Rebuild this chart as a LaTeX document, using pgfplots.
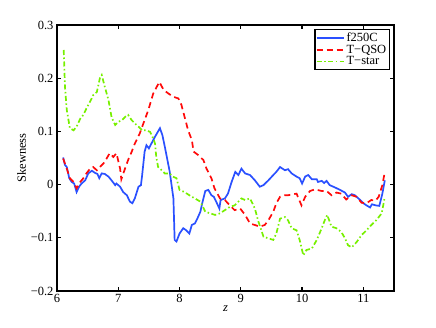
\documentclass[border=0pt]{standalone}
\usepackage{fontspec}
\setmainfont{Liberation Serif}
\usepackage{pgfplots}
\pgfplotsset{compat=1.18}
\definecolor{LBlue}{HTML}{2A50FF}
\definecolor{LRed}{HTML}{FF0A0A}
\definecolor{LGreen}{HTML}{77F000}

\begin{document}
\begin{tikzpicture}
\begin{axis}[
  width=337pt, height=266pt, scale only axis,
  xmin=6, xmax=11.5, ymin=-0.2, ymax=0.3,
  xtick={6,7,8,9,10,11},
  ytick={-0.2,-0.1,0,0.1,0.2,0.3},
  yticklabels={−0.2,−0.1,0,0.1,0.2,0.3},
  tick align=inside,
  major tick length=4pt,
  tick style={black, line width=1.2pt},
  axis line style={line width=1.6pt},
  ticklabel style={font=\fontsize{12.5}{14}\selectfont},
  /pgf/number format/assume math mode=true,
  xlabel={\textit{z}},
  ylabel={Skewness},
  label style={font=\fontsize{12.5}{14}\selectfont},
  xlabel style={yshift=4pt},
  ylabel style={yshift=-2pt},
  legend style={at={(0.988,0.985)}, anchor=north east, draw=black, line width=1.4pt,
    font=\fontsize{12.5}{14}\selectfont, inner sep=1pt, row sep=-2pt},
  legend cell align=left,
  legend image code/.code={\draw[#1, line width=1.7pt] (0cm,0cm) -- (0.95cm,0cm);},
]
\addplot[LBlue, line width=1.7pt] coordinates {
(6.10,0.051)(6.13,0.037)(6.16,0.033)(6.20,0.012)(6.24,0.005)(6.28,0.002)(6.32,-0.014)(6.36,-0.004)
(6.40,0.002)(6.46,0.008)(6.51,0.021)(6.57,0.026)(6.62,0.022)(6.66,0.020)(6.69,0.012)(6.73,0.021)
(6.78,0.020)(6.84,0.015)(6.89,0.008)(6.95,-0.001)(6.97,0.002)(7.03,-0.004)(7.08,-0.014)(7.14,-0.020)
(7.19,-0.032)(7.23,-0.035)(7.27,-0.026)(7.33,-0.004)(7.37,-0.001)(7.39,0.018)(7.43,0.062)(7.46,0.074)
(7.50,0.068)(7.54,0.077)(7.60,0.090)(7.68,0.106)(7.72,0.093)(7.76,0.071)(7.84,0.024)(7.90,-0.026)
(7.92,-0.104)(7.95,-0.107)(8.00,-0.092)(8.06,-0.082)(8.11,-0.086)(8.16,-0.092)(8.20,-0.076)(8.25,-0.073)
(8.29,-0.064)(8.34,-0.051)(8.37,-0.035)(8.42,-0.012)(8.47,-0.010)(8.52,-0.020)(8.56,-0.023)(8.61,-0.035)
(8.65,-0.045)(8.67,-0.029)(8.74,-0.026)(8.79,-0.017)(8.85,0.005)(8.91,0.024)(8.96,0.018)(9.01,0.030)
(9.07,0.021)(9.15,0.018)(9.23,0.008)(9.31,-0.004)(9.37,-0.001)(9.45,0.008)(9.53,0.018)(9.58,0.024)
(9.64,0.033)(9.72,0.027)(9.77,0.029)(9.83,0.021)(9.91,0.015)(9.96,0.012)(10.00,0.002)(10.05,0.015)
(10.10,0.018)(10.16,0.010)(10.24,0.010)(10.26,0.005)(10.32,0.007)(10.36,0.003)(10.40,0.007)(10.45,-0.001)
(10.53,-0.005)(10.62,-0.010)(10.70,-0.015)(10.75,-0.023)(10.81,-0.018)(10.86,-0.020)(10.92,-0.026)
(11.00,-0.035)(11.05,-0.039)(11.11,-0.043)(11.14,-0.037)(11.20,-0.039)(11.26,-0.040)(11.31,-0.017)(11.35,0.008)
};
\addlegendentry{f250C}
\addplot[LRed, line width=1.7pt, dash pattern=on 6pt off 4pt] coordinates {
(6.10,0.049)(6.16,0.030)(6.21,0.012)(6.27,0.005)(6.32,-0.007)(6.38,0.005)(6.43,0.012)(6.48,0.021)
(6.54,0.030)(6.59,0.033)(6.65,0.027)(6.70,0.033)(6.76,0.040)(6.81,0.049)(6.86,0.059)(6.92,0.052)
(6.97,0.059)(7.03,0.030)(7.05,0.010)(7.11,0.030)(7.16,0.046)(7.22,0.062)(7.27,0.077)(7.35,0.096)
(7.41,0.115)(7.49,0.140)(7.57,0.171)(7.67,0.193)(7.74,0.178)(7.82,0.171)(7.90,0.165)(7.98,0.162)
(8.03,0.150)(8.06,0.137)(8.14,0.102)(8.20,0.084)(8.23,0.062)(8.31,0.055)(8.39,0.046)(8.44,0.030)
(8.52,0.012)(8.57,-0.007)(8.66,-0.026)(8.74,-0.029)(8.82,-0.039)(8.90,-0.048)(8.99,-0.045)(9.07,-0.057)
(9.15,-0.073)(9.23,-0.076)(9.31,-0.079)(9.39,-0.076)(9.45,-0.067)(9.53,-0.051)(9.58,-0.035)(9.64,-0.023)
(9.72,-0.020)(9.77,-0.020)(9.91,-0.017)(9.99,-0.039)(10.05,-0.023)(10.13,-0.012)(10.21,-0.009)(10.32,-0.012)
(10.40,-0.012)(10.48,-0.020)(10.56,-0.015)(10.64,-0.017)(10.72,-0.028)(10.81,-0.020)(10.89,-0.023)
(10.97,-0.034)(11.05,-0.035)(11.13,-0.029)(11.20,-0.030)(11.25,-0.023)(11.31,-0.001)(11.35,0.024)
};
\addlegendentry{T−QSO}
\addplot[LGreen, line width=1.7pt, dash pattern=on 5pt off 2.5pt on 1.5pt off 2.5pt] coordinates {
(6.11,0.253)(6.13,0.184)(6.16,0.140)(6.21,0.106)(6.27,0.102)(6.32,0.109)(6.38,0.124)(6.43,0.131)
(6.48,0.143)(6.54,0.156)(6.59,0.168)(6.65,0.174)(6.70,0.200)(6.73,0.206)(6.78,0.184)(6.84,0.159)
(6.89,0.127)(6.95,0.112)(7.00,0.118)(7.06,0.121)(7.11,0.127)(7.16,0.131)(7.22,0.121)(7.27,0.115)
(7.33,0.109)(7.39,0.102)(7.46,0.102)(7.52,0.099)(7.57,0.087)(7.60,0.077)(7.62,0.052)(7.65,0.033)
(7.71,0.027)(7.76,0.021)(7.84,0.021)(7.89,0.015)(7.95,0.012)(8.00,-0.010)(8.08,-0.014)(8.16,-0.020)
(8.25,-0.026)(8.34,-0.032)(8.42,-0.051)(8.50,-0.054)(8.58,-0.057)(8.66,-0.054)(8.74,-0.048)(8.82,-0.042)
(8.90,-0.039)(8.96,-0.032)(9.01,-0.026)(9.07,-0.029)(9.15,-0.026)(9.23,-0.045)(9.28,-0.067)(9.37,-0.098)
(9.45,-0.101)(9.53,-0.104)(9.58,-0.092)(9.64,-0.064)(9.72,-0.061)(9.77,-0.067)(9.83,-0.082)(9.91,-0.086)
(9.96,-0.104)(10.02,-0.133)(10.07,-0.123)(10.16,-0.120)(10.24,-0.104)(10.32,-0.082)(10.37,-0.067)
(10.41,-0.057)(10.48,-0.079)(10.56,-0.082)(10.64,-0.089)(10.70,-0.101)(10.75,-0.114)(10.81,-0.118)
(10.89,-0.108)(10.97,-0.095)(11.05,-0.086)(11.13,-0.076)(11.21,-0.067)(11.30,-0.054)(11.35,-0.023)
};
\addlegendentry{T−star}
\end{axis}
\path (current axis.south west) ++(-57pt,-37pt) (current axis.north east) ++(42pt,25pt);
\end{tikzpicture}
\end{document}
